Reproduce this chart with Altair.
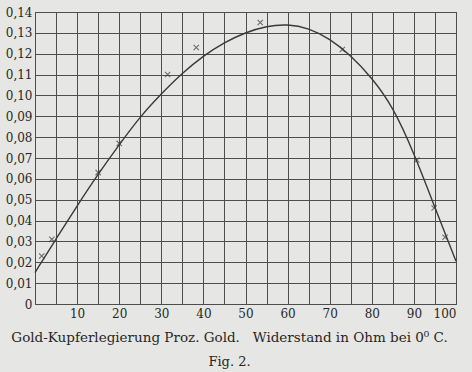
import altair as alt
import pandas as pd

# Measured points (crosses)
pts_x = [1.6, 4.0, 15.0, 20.0, 31.5, 38.3, 53.5, 73.0, 90.7, 94.8, 97.4]
pts_y = [0.023, 0.031, 0.063, 0.077, 0.110, 0.123, 0.135, 0.122, 0.069, 0.046, 0.032]

# Drawn curve
curve_x = [0, 5, 10, 15, 20, 25, 30, 35, 40, 45, 50, 55, 60, 65, 70, 75, 80, 85, 90, 95, 100]
curve_y = [0.0151, 0.0312, 0.0471, 0.0623, 0.0764, 0.0899, 0.1008, 0.1108, 0.1190, 0.1255, 0.1302,
           0.1333, 0.1342, 0.1323, 0.1272, 0.1192, 0.1085, 0.0947, 0.0725, 0.0462, 0.0205]

x_ticks = list(range(0, 101, 5))
y_ticks = [round(i * 0.01, 2) for i in range(0, 15)]

pts = pd.DataFrame({"x": pts_x, "y": pts_y})
curve = pd.DataFrame({"x": curve_x, "y": curve_y})

FONT = "DejaVu Serif"
INK = "#262626"
GRID = "#4d4d4d"
BG = "#e6e6e4"
NB = "\u00a0"

xs = alt.Scale(domain=[0, 100], nice=False, zero=False)
ys = alt.Scale(domain=[0, 0.14], nice=False, zero=False)

xax = alt.Axis(values=x_ticks, grid=True, gridColor=GRID, gridWidth=1, gridOpacity=1,
               ticks=False, domain=False, title=None, labelOverlap=False,
               labelExpr="datum.value % 10 == 0 && datum.value > 0 ? datum.label : ''",
               labelFont=FONT, labelFontSize=12, labelColor=INK, labelPadding=4)
yax = alt.Axis(values=y_ticks, grid=True, gridColor=GRID, gridWidth=1, gridOpacity=1,
               ticks=False, domain=False, title=None, labelOverlap=False,
               labelExpr="datum.value == 0 ? '0' : replace(format(datum.value, '.2f'), '.', ',')",
               labelFont=FONT, labelFontSize=12, labelColor=INK, labelPadding=3)

line = alt.Chart(curve).mark_line(color="#3a3a3a", strokeWidth=1.4, interpolate="basis").encode(
    x=alt.X("x:Q", scale=xs, axis=xax),
    y=alt.Y("y:Q", scale=ys, axis=yax),
)
cross = alt.Chart(pts).mark_point(shape="M-1,-1L1,1M-1,1L1,-1", color="#3a3a3a", size=28,
                                  strokeWidth=1.1, filled=False).encode(
    x=alt.X("x:Q", scale=xs, axis=xax),
    y=alt.Y("y:Q", scale=ys, axis=yax),
)

caption = "Gold-Kupferlegierung Proz. Gold." + NB * 3 + "Widerstand in Ohm bei 0\u2070 C."

chart = (line + cross).properties(
    width=421, height=292,
    padding={"left": 35, "top": 12, "right": 16, "bottom": 68},
    autosize=alt.AutoSizeParams(type="none"),
    background=BG,
    title=alt.TitleParams(
        text=caption,
        subtitle="Fig. 2.",
        orient="bottom", anchor="middle", offset=12, dx=-16,
        font=FONT, fontSize=13.5, fontWeight="normal", color=INK,
        subtitleFont=FONT, subtitleFontSize=13, subtitleColor=INK, subtitlePadding=11,
    ),
).configure_view(stroke=GRID, strokeWidth=1, fill=BG)

chart.save("out.html", embed_options={"renderer": "svg", "actions": False})
